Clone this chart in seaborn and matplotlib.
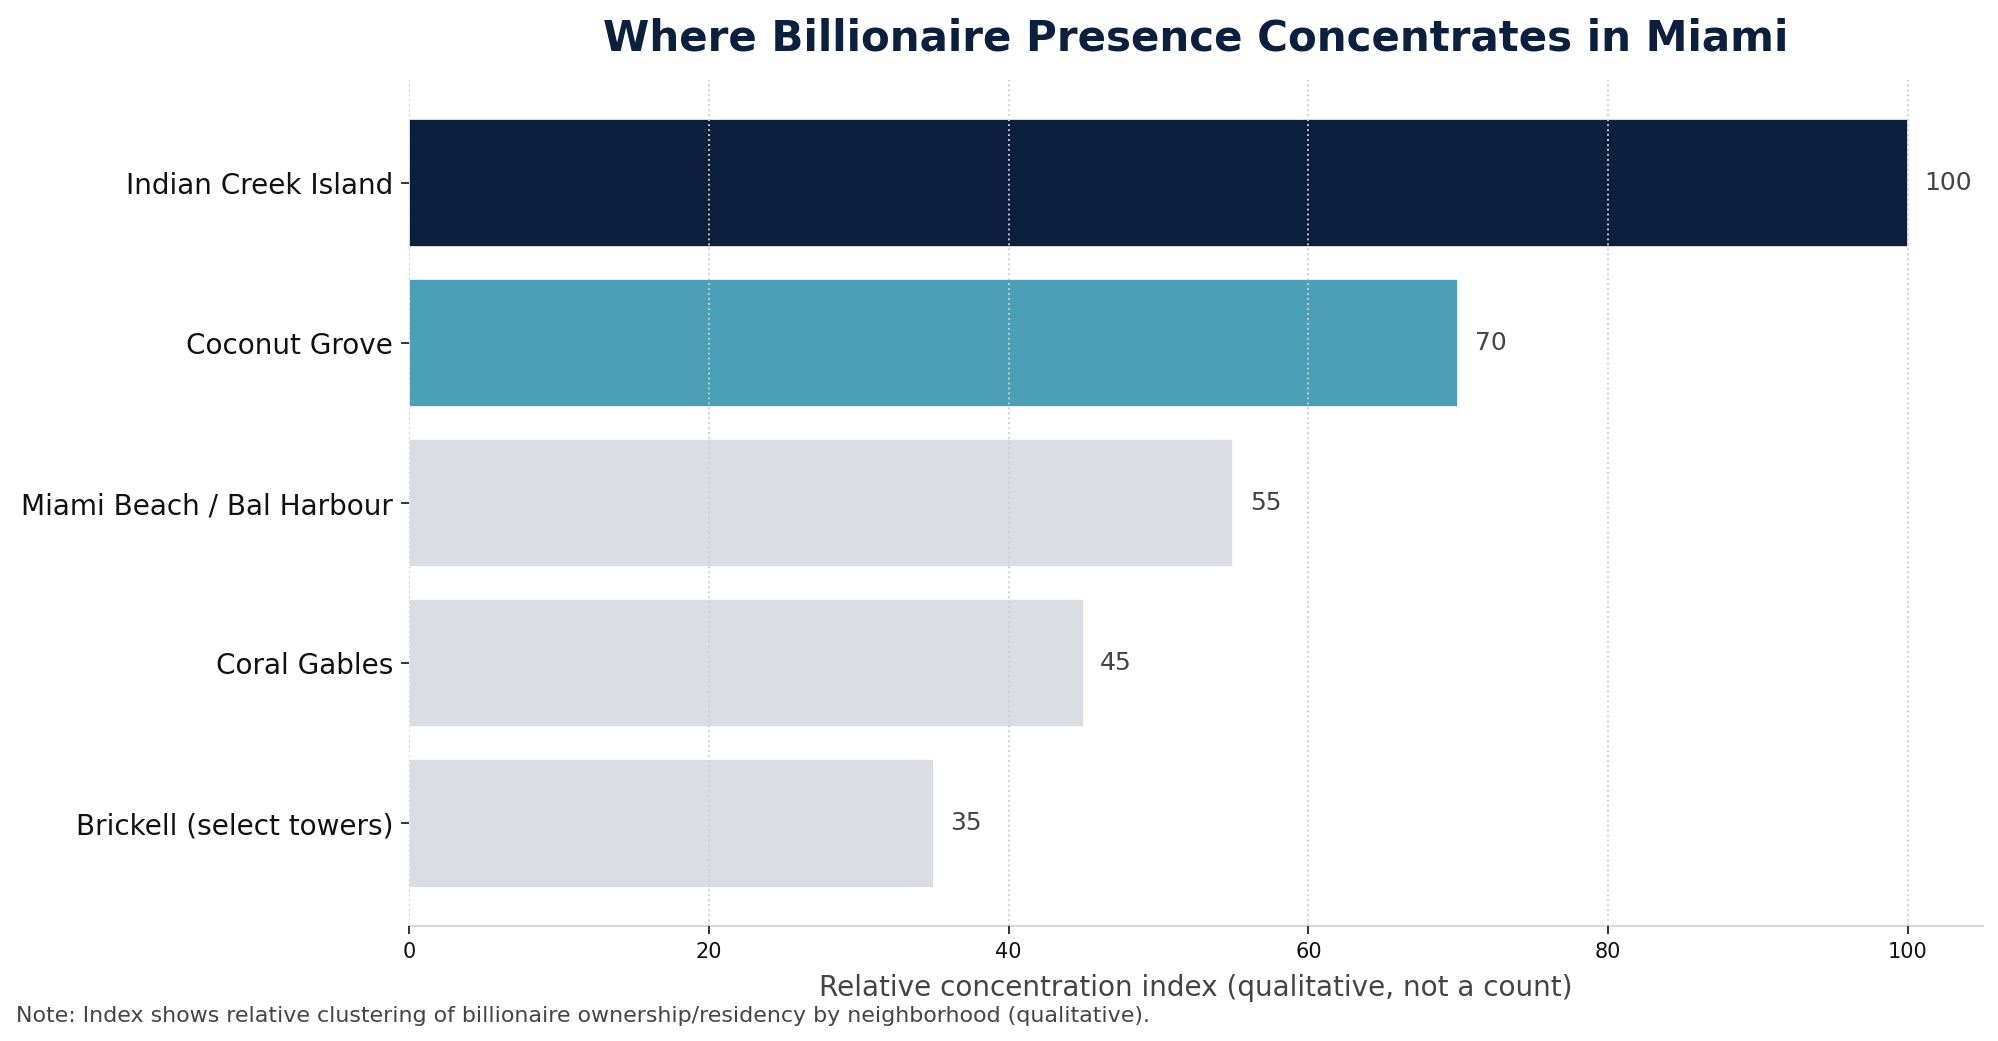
import matplotlib
matplotlib.use("Agg")
import matplotlib.pyplot as plt
import pandas as pd
import seaborn as sns

# Chart data
NEIGHBORHOODS = [
    "Indian Creek Island",
    "Coconut Grove",
    "Miami Beach / Bal Harbour",
    "Coral Gables",
    "Brickell (select towers)",
]
INDEX_VALUES = [100, 70, 55, 45, 35]
BAR_COLORS = ["#0C1F3D", "#4BA0B7", "#DADDE3", "#DADDE3", "#DADDE3"]

TITLE = "Where Billionaire Presence Concentrates in Miami"
XLABEL = "Relative concentration index (qualitative, not a count)"
NOTE = ("Note: Index shows relative clustering of billionaire "
        "ownership/residency by neighborhood (qualitative).")

df = pd.DataFrame({"neighborhood": NEIGHBORHOODS, "index": INDEX_VALUES})

sns.set_style("white")
plt.rcParams["font.family"] = ["DejaVu Sans"]

fig, ax = plt.subplots(figsize=(13.32, 6.94), dpi=150)
fig.subplots_adjust(left=0.2047, right=0.9925, top=0.923, bottom=0.1105)

sns.barplot(
    data=df,
    x="index",
    y="neighborhood",
    hue="neighborhood",
    palette=BAR_COLORS,
    saturation=1,
    legend=False,
    width=0.8,
    edgecolor="white",
    linewidth=0.8,
    ax=ax,
)

for patch, val in zip(ax.patches, INDEX_VALUES):
    y = patch.get_y() + patch.get_height() / 2
    ax.annotate(f"{val}", (val, y), xytext=(8, 0), textcoords="offset points",
                ha="left", va="center", fontsize=12, color="#444444")

ax.set_xlim(0, 105)
ax.set_ylim(4.64, -0.64)
ax.grid(axis="x", linestyle=":", color="#cfcfcf", linewidth=0.9)
ax.set_axisbelow(False)

ax.set_title(TITLE, fontsize=20.2, fontweight="bold", color="#0C1F3D", pad=14)
ax.set_xlabel(XLABEL, fontsize=13.4, color="#444444", labelpad=6)
ax.set_ylabel("")
ax.tick_params(axis="y", labelsize=13.4, length=4, left=True, colors="#111111")
ax.tick_params(axis="x", labelsize=10, length=4, bottom=True, colors="#111111")

for side in ["top", "right", "left"]:
    ax.spines[side].set_visible(False)
ax.spines["bottom"].set_color("#d8d8d8")
ax.spines["bottom"].set_linewidth(1.0)

fig.text(0.008, 0.014, NOTE, fontsize=10.6, color="#444444", ha="left", va="bottom")

fig.savefig("out.png", dpi=150)
plt.close(fig)
